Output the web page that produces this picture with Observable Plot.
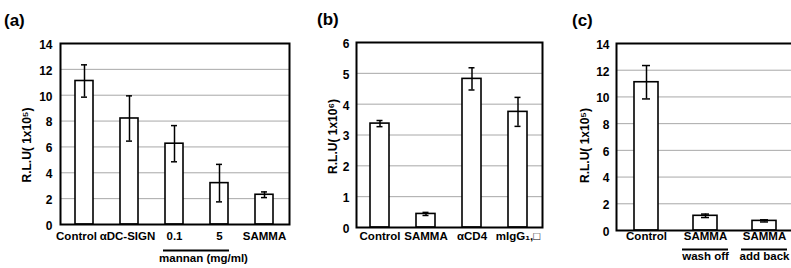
<!DOCTYPE html>
<html>
<head>
<meta charset="utf-8">
<script src="https://cdn.jsdelivr.net/npm/d3@7"></script>
<script src="https://cdn.jsdelivr.net/npm/@observablehq/plot@0.6"></script>
<style>
  body { margin: 0; background: #fff; }
  #fig { position: relative; width: 791px; height: 268px; overflow: hidden; background: #fff;
         font-family: "Liberation Sans", Arial, sans-serif; }
  .panel { position: absolute; top: 0; }
  .tag { position: absolute; font-weight: bold; font-size: 17px; line-height: 17px; color: #000; }
</style>
</head>
<body>
<div id="fig"></div>
<script>
// ---- data ----
const catsA = ["Control", "αDC-SIGN", "0.1", "5", "SAMMA"];
const valsA = [11.1, 8.2, 6.25, 3.2, 2.3];
const errsA = [1.25, 1.75, 1.4, 1.45, 0.22];
const ticksA = [0, 2, 4, 6, 8, 10, 12, 14];
const labelA = "R.L.U( 1x10⁵)";
const groupA = "mannan (mg/ml)";

const catsB = ["Control", "SAMMA", "αCD4", "mIgG₁,□"];
const valsB = [3.37, 0.44, 4.82, 3.75];
const errsB = [0.1, 0.05, 0.36, 0.47];
const ticksB = [0, 1, 2, 3, 4, 5, 6];
const labelB = "R.L.U( 1x10⁶)";

const catsC = ["Control", "SAMMA wash off", "SAMMA add back"];
const line1C = ["Control", "SAMMA", "SAMMA"];
const line2C = ["", "wash off", "add back"];
const valsC = [11.1, 1.1, 0.72];
const errsC = [1.25, 0.13, 0.08];
const ticksC = [0, 2, 4, 6, 8, 10, 12, 14];
const labelC = "R.L.U( 1x10⁵)";

const tags = ["(a)", "(b)", "(c)"];

// ---- drawing ----
const FONT = "'Liberation Sans', Arial, sans-serif";
const fig = document.getElementById("fig");

function rows(cats, vals, errs) {
  return cats.map((c, i) => ({c, v: vals[i], lo: vals[i] - errs[i], hi: vals[i] + errs[i]}));
}

function panel(o) {
  const data = rows(o.cats, o.vals, o.errs);
  const marks = [
    Plot.gridY(o.ticks.filter(t => t > 0 && t < o.ticks[o.ticks.length - 1]), {stroke: "#a8a8a8", strokeOpacity: 1, strokeWidth: 1}),
    Plot.barY(data, {x: "c", y: "v", fill: "white", stroke: "black", strokeWidth: 1.6}),
    Plot.ruleX(data, {x: "c", y1: "lo", y2: "hi", stroke: "black", strokeWidth: 1.5}),
    Plot.tickY(data, {x: "c", y: "lo", stroke: "black", strokeWidth: 1.5, insetLeft: o.capInset, insetRight: o.capInset}),
    Plot.tickY(data, {x: "c", y: "hi", stroke: "black", strokeWidth: 1.5, insetLeft: o.capInset, insetRight: o.capInset}),
    Plot.frame({stroke: "black", strokeWidth: 2}),
    Plot.axisY({ticks: o.ticks, tickSize: 0, tickPadding: o.tickPad, tickFormat: d => String(d),
                fontWeight: "bold", fontSize: 12, label: null, dy: 1.5}),
    Plot.text([o.label], {frameAnchor: "left", textAnchor: "middle", rotate: -90, dx: o.labelDx, dy: o.labelDy, text: d => d,
                fontWeight: "bold", fontSize: 12})
  ].concat(o.extra || []);
  const svg = Plot.plot({
    width: o.width, height: 268,
    marginLeft: o.mL, marginRight: o.mR, marginTop: o.mT, marginBottom: o.mB,
    x: {domain: o.cats, paddingInner: o.pi, paddingOuter: o.po, axis: null},
    y: {domain: [0, o.ticks[o.ticks.length - 1]], axis: null},
    style: {fontFamily: FONT, fontSize: "12px", fontWeight: "bold", background: "transparent", overflow: "visible", color: "black"},
    marks
  });
  svg.classList.add("panel");
  svg.style.left = o.left + "px";
  fig.appendChild(svg);
}

// Panel (a)
panel({
  cats: catsA, vals: valsA, errs: errsA, ticks: ticksA, label: labelA,
  left: 0, width: 295, mL: 60, mR: 6, mT: 43, mB: 44, pi: 0.6, po: 0.3,
  tickPad: 8, labelDx: -33, labelDy: 11, capInset: 6,
  extra: [
    Plot.text(catsA.slice(0, 1), {x: d => d, text: d => d, frameAnchor: "bottom", dy: 15, dx: -8, fontWeight: "bold", fontSize: 11.5}),
    Plot.text(catsA.slice(1, 2), {x: d => d, text: d => d, frameAnchor: "bottom", dy: 15, dx: -2, fontWeight: "bold", fontSize: 11.5}),
    Plot.text(catsA.slice(2), {x: d => d, text: d => d, frameAnchor: "bottom", dy: 15, fontWeight: "bold", fontSize: 11.5}),
    Plot.ruleY([{a: catsA[2], b: catsA[3], y: 0}], {x1: "a", x2: "b", y: "y", dy: 26, stroke: "black", strokeWidth: 2, insetLeft: -2, insetRight: -1}),
    Plot.text([{c: catsA[2], t: groupA}], {x: "c", text: "t", frameAnchor: "bottom", dy: 37, dx: 29, fontWeight: "bold", fontSize: 11.5})
  ]
});

// Panel (b)
panel({
  cats: catsB, vals: valsB, errs: errsB, ticks: ticksB, label: labelB,
  left: 290, width: 260, mL: 66, mR: 8, mT: 42, mB: 41, pi: 0.58, po: 0.29,
  tickPad: 7, labelDx: -23, labelDy: 1.5, capInset: 6.5,
  extra: [
    Plot.text(catsB, {x: d => d, text: d => d, frameAnchor: "bottom", dy: 12, fontWeight: "bold", fontSize: 11.5})
  ]
});

// Panel (c)
panel({
  cats: catsC, vals: valsC, errs: errsC, ticks: ticksC, label: labelC,
  left: 545, width: 250, mL: 71, mR: 1, mT: 43, mB: 38, pi: 0.6, po: 0.29,
  tickPad: 7, labelDx: -31, labelDy: 8.5, capInset: 8,
  extra: [
    Plot.text(catsC.map((c, i) => ({c, t: line1C[i]})), {x: "c", text: "t", frameAnchor: "bottom", dy: 9, fontWeight: "bold", fontSize: 11.5}),
    Plot.ruleY(catsC.slice(1).map(c => ({c, y: 0})), {x1: "c", x2: "c", y: "y", dy: 19, stroke: "black", strokeWidth: 2, insetLeft: -11, insetRight: -11}),
    Plot.text(catsC.map((c, i) => ({c, t: line2C[i]})), {x: "c", text: "t", frameAnchor: "bottom", dy: 29, fontWeight: "bold", fontSize: 11.5})
  ]
});

// Panel tags
const tagPos = [[4, 12], [317, 11], [572, 12]];
tags.forEach((t, i) => {
  const d = document.createElement("div");
  d.className = "tag";
  d.textContent = t;
  d.style.left = tagPos[i][0] + "px";
  d.style.top = tagPos[i][1] + "px";
  fig.appendChild(d);
});
</script>
</body>
</html>
